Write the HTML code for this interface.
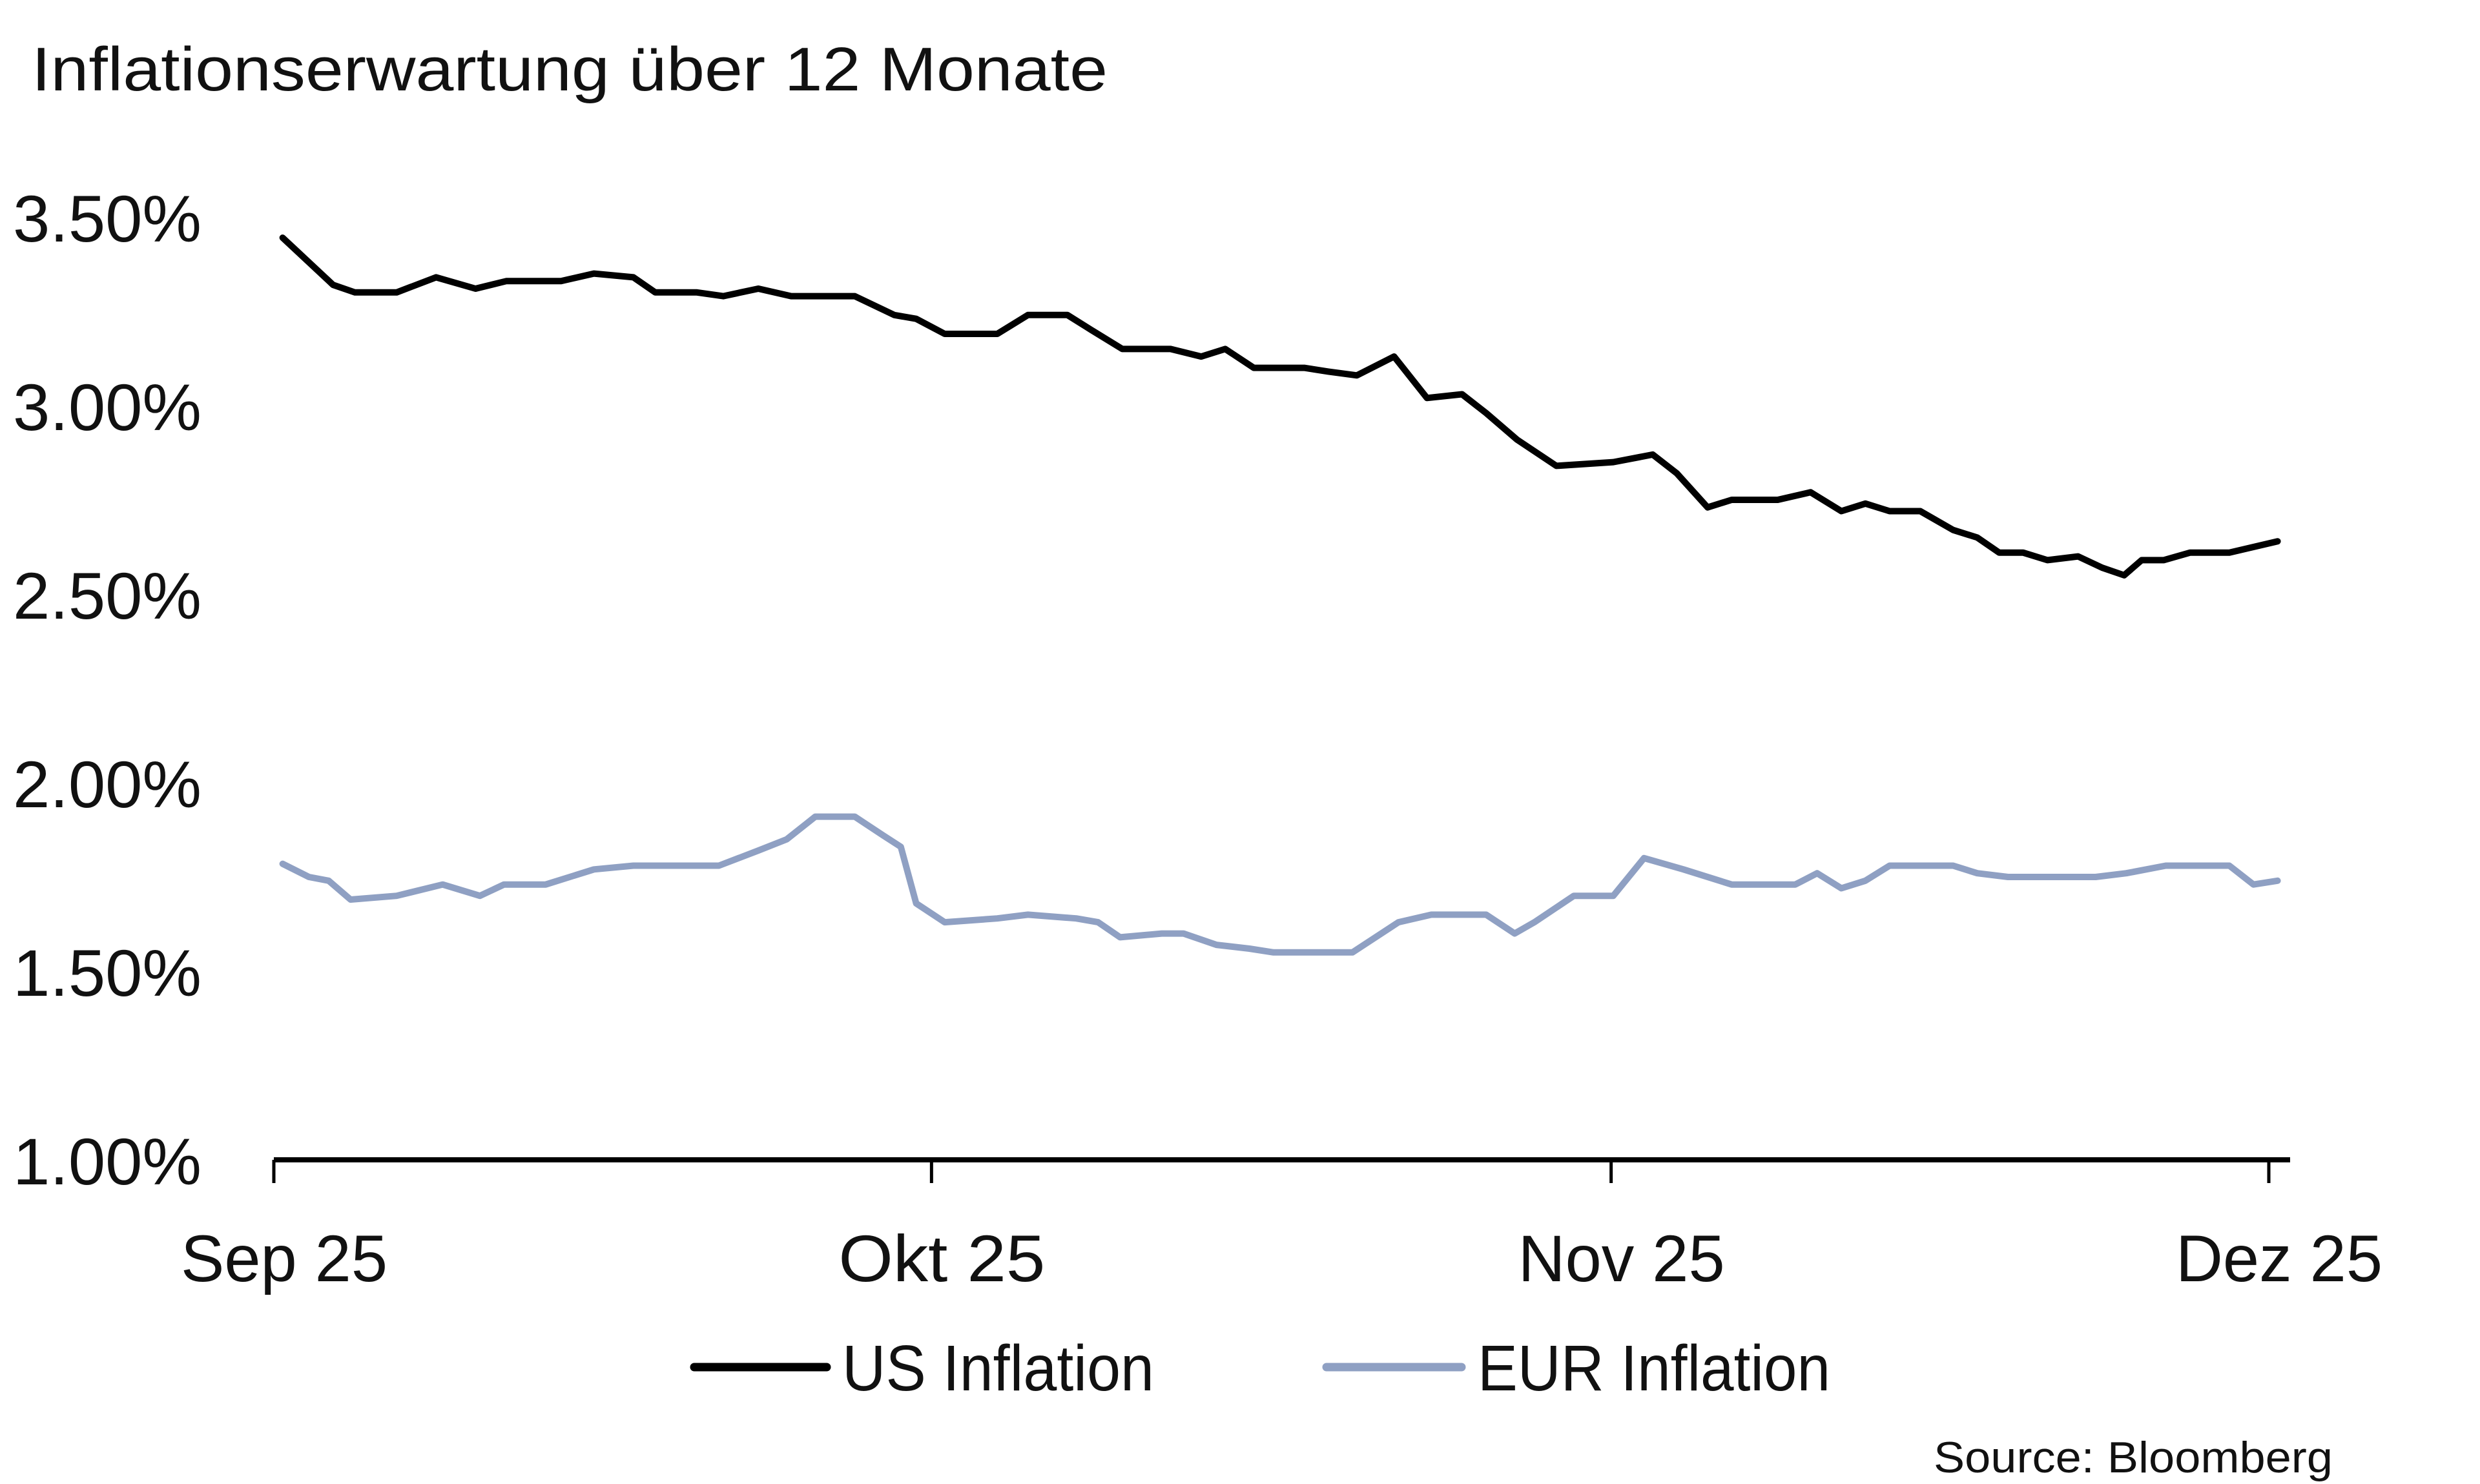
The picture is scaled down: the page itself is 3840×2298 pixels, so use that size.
<!DOCTYPE html>
<html><head><meta charset="utf-8"><style>
html,body{margin:0;padding:0;background:#fff;}
svg{display:block;}
text{font-family:"Liberation Sans",sans-serif;fill:#111;}
</style></head><body>
<svg id="chart" width="3840" height="2298" viewBox="0 0 3840 2298" xmlns="http://www.w3.org/2000/svg">
<rect width="3840" height="2298" fill="#fff"/>
<text x="49" y="140" font-size="96" textLength="1666" lengthAdjust="spacingAndGlyphs">Inflationserwartung über 12 Monate</text>
<g id="yaxis"></g>
<g id="xaxis"></g>
<g id="series"></g>
<g>
  <line x1="1075" y1="2117" x2="1280" y2="2117" stroke="#000" stroke-width="13" stroke-linecap="round"/>
  <text x="1304" y="2153" font-size="100" textLength="483" lengthAdjust="spacingAndGlyphs">US Inflation</text>
  <line x1="2054" y1="2117" x2="2263" y2="2117" stroke="#8fa0c3" stroke-width="13" stroke-linecap="round"/>
  <text x="2288" y="2153" font-size="100" textLength="546" lengthAdjust="spacingAndGlyphs">EUR Inflation</text>
</g>
<text x="3612" y="2280" font-size="68" text-anchor="end" textLength="618" lengthAdjust="spacingAndGlyphs">Source: Bloomberg</text>
</svg>
<script>
const yTicks = [1.0, 1.5, 2.0, 2.5, 3.0, 3.5];
const yTickLabels = ["1.00%", "1.50%", "2.00%", "2.50%", "3.00%", "3.50%"];
const xTickDays = [0, 30, 61, 91];
const xTickLabels = ["Sep 25", "Okt 25", "Nov 25", "Dez 25"];
const usDays = [0.4,1.6,2.7,3.7,5.6,7.4,9.2,10.6,13.1,14.6,16.4,17.4,19.3,20.5,22.1,23.6,26.5,28.3,29.3,30.6,33,34.4,36.2,37.3,38.7,40.9,42.3,43.4,44.7,47,48.1,49.4,51.1,52.6,54.2,55.3,56.7,58.5,61.1,62.9,64,65.4,66.5,68.6,70.1,71.5,72.6,73.7,75.1,76.6,77.7,78.7,79.8,80.9,82.3,83.4,84.4,85.2,86.2,87.4,89.2,91.4];
const usValues = [3.445,3.38,3.32,3.30,3.30,3.34,3.31,3.33,3.33,3.35,3.34,3.30,3.30,3.29,3.31,3.29,3.29,3.24,3.23,3.19,3.19,3.24,3.24,3.20,3.15,3.15,3.13,3.15,3.10,3.10,3.09,3.08,3.13,3.02,3.03,2.98,2.91,2.84,2.85,2.87,2.82,2.73,2.75,2.75,2.77,2.72,2.74,2.72,2.72,2.67,2.65,2.61,2.61,2.59,2.60,2.57,2.55,2.59,2.59,2.61,2.61,2.64];
const eurDays = [0.4,1.6,2.5,3.5,5.6,7.7,9.4,10.5,12.4,14.6,16.4,20.3,22.1,23.4,24.7,26.5,27.8,28.6,29.3,30.6,33,34.4,36.6,37.6,38.6,40.5,41.5,43,44.5,45.6,47.7,49.2,51.3,52.8,55.3,56.6,57.5,59.3,61.1,62.5,64.3,66.5,69.4,70.4,71.5,72.6,73.7,76.6,77.7,79.1,82,83.1,84.5,86.3,89.2,90.3,91.4];
const eurValues = [1.785,1.75,1.74,1.69,1.70,1.73,1.70,1.73,1.73,1.77,1.78,1.78,1.82,1.85,1.91,1.91,1.86,1.83,1.68,1.63,1.64,1.65,1.64,1.63,1.59,1.60,1.60,1.57,1.56,1.55,1.55,1.55,1.63,1.65,1.65,1.60,1.63,1.70,1.70,1.80,1.77,1.73,1.73,1.76,1.72,1.74,1.78,1.78,1.76,1.75,1.75,1.75,1.76,1.78,1.78,1.73,1.74];

const NS = "http://www.w3.org/2000/svg";
const X0 = 424, X1 = 3513, D0 = 0, D1 = 91;
const Y0 = 1796, YPER = 584;
function xScale(d){ return X0 + (d - D0) / (D1 - D0) * (X1 - X0); }
function yScale(v){ return Y0 - (v - 1.0) * YPER; }
function mk(tag, attrs, parent){ const e = document.createElementNS(NS, tag); for (const k in attrs) e.setAttribute(k, attrs[k]); parent.appendChild(e); return e; }

const yaxis = document.getElementById('yaxis');
yTicks.forEach((v, i) => {
  const t = mk('text', {x: 312, y: yScale(v) + 38, 'font-size': 102, 'text-anchor': 'end', textLength: 292, lengthAdjust: 'spacingAndGlyphs'}, yaxis);
  
  
  t.textContent = yTickLabels[i];
});

const xaxis = document.getElementById('xaxis');
const axisLine = mk('line', {x1: 424, y1: Y0, x2: 3546, y2: Y0, stroke: '#000', 'stroke-width': 8}, xaxis);


xTickDays.forEach((d, i) => {
  const x = xScale(d);
  const tk = mk('line', {x1: x, y1: Y0, x2: x, y2: Y0 + 36, stroke: '#000', 'stroke-width': 5}, xaxis);
  
  
  const lbl = mk('text', {x: x + 16, y: 1984, 'font-size': 102, 'text-anchor': 'middle', textLength: 320, lengthAdjust: 'spacingAndGlyphs'}, xaxis);
  
  
  lbl.textContent = xTickLabels[i];
});

const series = document.getElementById('series');
function drawLine(days, vals, color, name){
  const d = days.map((dd, i) => (i ? 'L' : 'M') + xScale(dd).toFixed(1) + ' ' + yScale(vals[i]).toFixed(1)).join(' ');
  const p = mk('path', {d: d, fill: 'none', stroke: color, 'stroke-width': 10, 'stroke-linejoin': 'round', 'stroke-linecap': 'round'}, series);
  
  
}
drawLine(eurDays, eurValues, '#8fa0c3', 'eur-inflation-line');
drawLine(usDays, usValues, '#000', 'us-inflation-line');
</script>
</body></html>
